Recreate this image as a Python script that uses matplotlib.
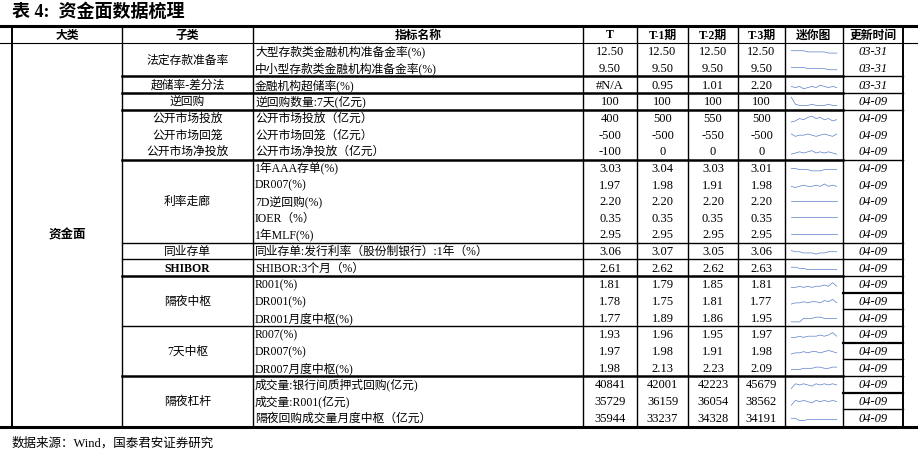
import matplotlib
matplotlib.use("Agg")
import matplotlib.pyplot as plt

plt.rcParams['font.family'] = ['Liberation Serif', 'Noto Sans CJK SC']

headers = ["大类", "子类", "指标名称", "T", "T-1期", "T-2期", "T-3期", "迷你图", "更新时间"]

names = [
    "大型存款类金融机构准备金率(%)", "中小型存款类金融机构准备金率(%)", "金融机构超储率(%)",
    "逆回购数量:7天(亿元)", "公开市场投放（亿元）", "公开市场回笼（亿元）", "公开市场净投放（亿元）",
    "1年AAA存单(%)", "DR007(%)", "7D逆回购(%)", "IOER（%）", "1年MLF(%)",
    "同业存单:发行利率（股份制银行）:1年（%）", "SHIBOR:3个月（%）",
    "R001(%)", "DR001(%)", "DR001月度中枢(%)", "R007(%)", "DR007(%)", "DR007月度中枢(%)",
    "成交量:银行间质押式回购(亿元)", "成交量:R001(亿元)", "隔夜回购成交量月度中枢（亿元）",
]
t0 = ["12.50", "9.50", "#N/A", "100", "400", "-500", "-100", "3.03", "1.97", "2.20", "0.35", "2.95",
      "3.06", "2.61", "1.81", "1.78", "1.77", "1.93", "1.97", "1.98", "40841", "35729", "35944"]
t1 = ["12.50", "9.50", "0.95", "100", "500", "-500", "0", "3.04", "1.98", "2.20", "0.35", "2.95",
      "3.07", "2.62", "1.79", "1.75", "1.89", "1.96", "1.98", "2.13", "42001", "36159", "33237"]
t2 = ["12.50", "9.50", "1.01", "100", "550", "-550", "0", "3.03", "1.91", "2.20", "0.35", "2.95",
      "3.05", "2.62", "1.85", "1.81", "1.86", "1.95", "1.91", "2.23", "42223", "36054", "34328"]
t3 = ["12.50", "9.50", "2.20", "100", "500", "-500", "0", "3.01", "1.98", "2.20", "0.35", "2.95",
      "3.06", "2.63", "1.81", "1.77", "1.95", "1.97", "1.98", "2.09", "45679", "38562", "34191"]
updated = ["03-31"] * 3 + ["04-09"] * 20

# sub-category groups: (label, first row, last row)
groups = [("法定存款准备率", 0, 1), ("超储率-差分法", 2, 2), ("逆回购", 3, 3),
          ("公开市场投放", 4, 4), ("公开市场回笼", 5, 5), ("公开市场净投放", 6, 6),
          ("利率走廊", 7, 11), ("同业存单", 12, 12), ("SHIBOR", 13, 13),
          ("隔夜中枢", 14, 16), ("7天中枢", 17, 19), ("隔夜杠杆", 20, 22)]
bold_groups = ["SHIBOR"]
group_breaks = [2, 3, 4, 7, 12, 13, 14, 17, 20]

# rough sparkline shapes read from the thumbnails
spark = [
    [5, 5, 5, 5, 4, 4, 4, 4, 4, 3, 3, 3],
    [5, 5, 5, 5, 4, 4, 4, 4, 4, 3, 3, 3],
    [3, 2, 3, 1, 2, 3, 2, 4, 3, 2, 3, 2],
    [8, 2, 1, 1, 1, 2, 1, 1, 1, 2, 1, 1],
    [1, 2, 4, 3, 5, 6, 4, 5, 3, 4, 2, 3],
    [5, 3, 4, 4, 5, 4, 3, 4, 5, 4, 3, 5],
    [2, 3, 4, 3, 4, 5, 3, 4, 3, 4, 3, 2],
    [4, 4, 3, 3, 3, 2, 2, 2, 3, 3, 3, 3],
    [3, 2, 3, 4, 3, 3, 4, 3, 5, 3, 4, 3],
    [5, 5, 5, 5, 5, 5, 5, 5, 5, 5, 5, 5],
    [5, 5, 5, 5, 5, 5, 5, 5, 5, 5, 5, 5],
    [5, 5, 5, 5, 5, 5, 5, 5, 5, 5, 5, 5],
    [5, 4, 4, 3, 3, 3, 2, 3, 3, 4, 4, 4],
    [5, 5, 4, 4, 3, 3, 3, 3, 3, 3, 3, 3],
    [2, 2, 3, 2, 3, 2, 3, 3, 4, 3, 6, 3],
    [2, 3, 3, 4, 3, 4, 4, 3, 5, 4, 6, 3],
    [1, 1, 1, 4, 4, 4, 5, 5, 4, 4, 4, 4],
    [2, 2, 3, 2, 3, 3, 3, 4, 3, 4, 6, 3],
    [2, 3, 3, 4, 3, 4, 4, 3, 4, 5, 4, 3],
    [3, 3, 3, 4, 4, 4, 5, 5, 4, 4, 5, 5],
    [1, 5, 4, 5, 4, 3, 5, 4, 5, 4, 5, 4],
    [1, 5, 4, 5, 4, 3, 5, 4, 5, 4, 5, 4],
    [4, 4, 2, 2, 3, 3, 3, 3, 3, 3, 3, 3],
]

W, H = 918, 460
fig = plt.figure(figsize=(W / 100, H / 100), dpi=100)
ax = fig.add_axes([0, 0, 1, 1])
ax.set_xlim(0, W)
ax.set_ylim(H, 0)
ax.axis('off')

cols = [12, 122, 253, 583, 637, 688, 738, 785, 843, 903]
top, hdr, bottom = 27, 44, 427
n = len(names)
rh = (bottom - hdr) / n
def ry(i):
    return hdr + i * rh

ax.text(12, 12, "表 4:  资金面数据梳理", fontsize=13, fontweight='bold', va='center')
ax.plot([0, W], [top, top], color='black', lw=2.2)
ax.plot([0, W], [bottom + 1, bottom + 1], color='black', lw=2.2)
ax.plot([0, W], [hdr, hdr], color='black', lw=0.8)
for x in cols:
    ax.plot([x, x], [top, bottom], color='black', lw=1.0 if x not in (12, 903) else 1.4)

for j, h in enumerate(headers):
    xc = (cols[j] + cols[j + 1]) / 2
    ax.text(xc, (top + hdr) / 2, h, ha='center', va='center', fontsize=8.5, fontweight='bold')

ax.text((cols[0] + cols[1]) / 2, (hdr + bottom) / 2, "资金面", ha='center', va='center',
        fontsize=9, fontweight='bold')

for lab, a, b in groups:
    yc = (ry(a) + ry(b + 1)) / 2
    ax.text((cols[1] + cols[2]) / 2, yc, lab, ha='center', va='center', fontsize=8.5,
            fontweight='bold' if lab in bold_groups else 'medium')
for i in group_breaks:
    thick = i in (2, 3, 4, 7, 14, 20)
    ax.plot([cols[1], cols[8]], [ry(i), ry(i)], color='black', lw=1.8 if thick else 1.0)
for i in range(1, n):
    if i >= 14 or i in group_breaks:
        ax.plot([cols[8], cols[9]], [ry(i), ry(i)], color='black', lw=1.6 if i in (15, 18, 21) else 1.0)

for i in range(n):
    yc = (ry(i) + ry(i + 1)) / 2
    ax.text(cols[2] + 2, yc, names[i], ha='left', va='center', fontsize=8.5)
    for j, col in enumerate([t0, t1, t2, t3]):
        ax.text((cols[3 + j] + cols[4 + j]) / 2, yc, col[i], ha='center', va='center', fontsize=9)
    ax.text((cols[8] + cols[9]) / 2, yc, updated[i], ha='center', va='center', fontsize=9,
            style='italic')
    sx0, sx1 = cols[7] + 4, cols[8] - 4
    sy0, sy1 = ry(i) + 3, ry(i + 1) - 3
    sax = fig.add_axes([sx0 / W, 1 - sy1 / H, (sx1 - sx0) / W, (sy1 - sy0) / H])
    sax.plot(range(len(spark[i])), spark[i], color='#5b7fc7', lw=0.5)
    sax.set_ylim(0, 9)
    sax.axis('off')

ax.text(12, 443, "数据来源：Wind，国泰君安证券研究", fontsize=9, va='center')

fig.savefig("out.png", dpi=100)
